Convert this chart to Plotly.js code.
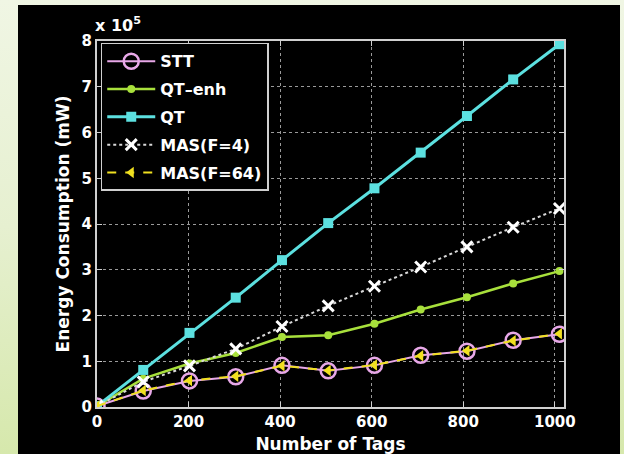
<!DOCTYPE html>
<html>
<head>
<meta charset="utf-8">
<script src="https://cdn.plot.ly/plotly-3.0.1.min.js"></script>
<style>
html,body{margin:0;padding:0;width:624px;height:454px;overflow:hidden;}
body{background:linear-gradient(to bottom,#f0f6e4 0%,#e6f0d0 50%,#d6e8ac 100%);}
#plot{position:absolute;left:18px;top:5px;width:602px;height:449px;}
</style>
</head>
<body>
<div id="plot"></div>
<script>
var tags = [0, 101, 202, 303, 404, 505, 606, 707, 808, 909, 1010];
var stt = [0.02, 0.35, 0.57, 0.66, 0.91, 0.79, 0.91, 1.13, 1.22, 1.46, 1.59];
var qtEnh = [0.02, 0.62, 0.95, 1.18, 1.53, 1.57, 1.82, 2.13, 2.40, 2.70, 2.97];
var qt = [0.02, 0.81, 1.62, 2.39, 3.21, 4.02, 4.78, 5.56, 6.36, 7.16, 7.93];
var mas4 = [0.02, 0.55, 0.90, 1.27, 1.76, 2.21, 2.64, 3.06, 3.50, 3.93, 4.34];
var mas64 = [0.02, 0.36, 0.58, 0.67, 0.90, 0.80, 0.92, 1.12, 1.23, 1.45, 1.60];
var names = ['STT', 'QT\u2013enh', 'QT', 'MAS(F=4)', 'MAS(F=64)'];
var yTicks = [0,1,2,3,4,5,6,7,8];
var xTicks = [0,200,400,600,800,1000];

var FF = 'DejaVu Sans, Liberation Sans, sans-serif';

var traces = [
  {x: tags, y: stt, name: names[0], mode: 'lines+markers', legendgroup: 'a',
   line: {color: '#e8a8e8', width: 2},
   marker: {symbol: 'circle-open', size: 15, color: '#e8a8e8', line: {width: 2.5, color: '#e8a8e8'}}},
  {x: tags, y: qtEnh, name: names[1], mode: 'lines+markers', legendgroup: 'b',
   line: {color: '#a8e03c', width: 2.5},
   marker: {symbol: 'circle', size: 8, color: '#a8e03c'}},
  {x: tags, y: qt, name: names[2], mode: 'lines+markers', legendgroup: 'c',
   line: {color: '#5ce0e0', width: 3},
   marker: {symbol: 'square', size: 10, color: '#5ce0e0'}},
  {x: tags, y: mas4, name: names[3], mode: 'lines+markers', legendgroup: 'd',
   line: {color: '#d8d8d8', width: 2, dash: 'dot'},
   marker: {symbol: 'x-thin-open', size: 11, color: '#ffffff', line: {width: 3, color: '#ffffff'}}},
  {x: tags, y: mas64, name: names[4], mode: 'lines+markers', legendgroup: 'e',
   line: {color: '#f0e020', width: 2, dash: 'dash'},
   marker: {symbol: 'triangle-left', size: 10, color: '#f0e020'}}
];

var tickFont = {family: FF, size: 15, color: '#ffffff', weight: 'bold'};

var layout = {
  width: 602, height: 449,
  paper_bgcolor: '#000000', plot_bgcolor: '#000000',
  margin: {l: 79, r: 56, t: 36, b: 47},
  showlegend: true,
  legend: {x: 0.008, y: 0.995, xanchor: 'left', yanchor: 'top',
    bgcolor: '#000000', bordercolor: '#d0d0d0', borderwidth: 1.5,
    font: {family: FF, size: 16, color: '#ffffff', weight: 'bold'},
    traceorder: 'grouped', tracegroupgap: 4, itemwidth: 48},
  xaxis: {range: [0, 1020], tickvals: xTicks, ticktext: xTicks.map(String),
    showgrid: true, gridcolor: '#9a9a9a', griddash: 'dot', gridwidth: 1,
    zeroline: false, showline: true, linecolor: '#d0d0d0', linewidth: 2, mirror: 'ticks',
    ticks: 'inside', ticklen: 5, tickcolor: '#d0d0d0', tickwidth: 1,
    tickfont: tickFont,
    title: {text: 'Number of Tags', font: {family: FF, size: 17, color: '#ffffff', weight: 'bold'}, standoff: 9}},
  yaxis: {range: [0, 8], tickvals: yTicks, ticktext: yTicks.map(String),
    showgrid: true, gridcolor: '#9a9a9a', griddash: 'dot', gridwidth: 1,
    zeroline: false, showline: true, linecolor: '#d0d0d0', linewidth: 2, mirror: 'ticks',
    ticks: 'inside', ticklen: 5, tickcolor: '#d0d0d0', tickwidth: 1,
    tickfont: tickFont,
    title: {text: 'Energy Consumption (mW)', font: {family: FF, size: 17, color: '#ffffff', weight: 'bold'}, standoff: 8}},
  annotations: [{xref: 'paper', yref: 'paper', x: -0.008, y: 1.01, xanchor: 'left', yanchor: 'bottom',
    text: 'x 10<sup>5</sup>', showarrow: false,
    font: {family: FF, size: 16, color: '#ffffff', weight: 'bold'}}]
};

Plotly.newPlot('plot', traces, layout, {displayModeBar: false, staticPlot: true});
</script>
</body>
</html>
